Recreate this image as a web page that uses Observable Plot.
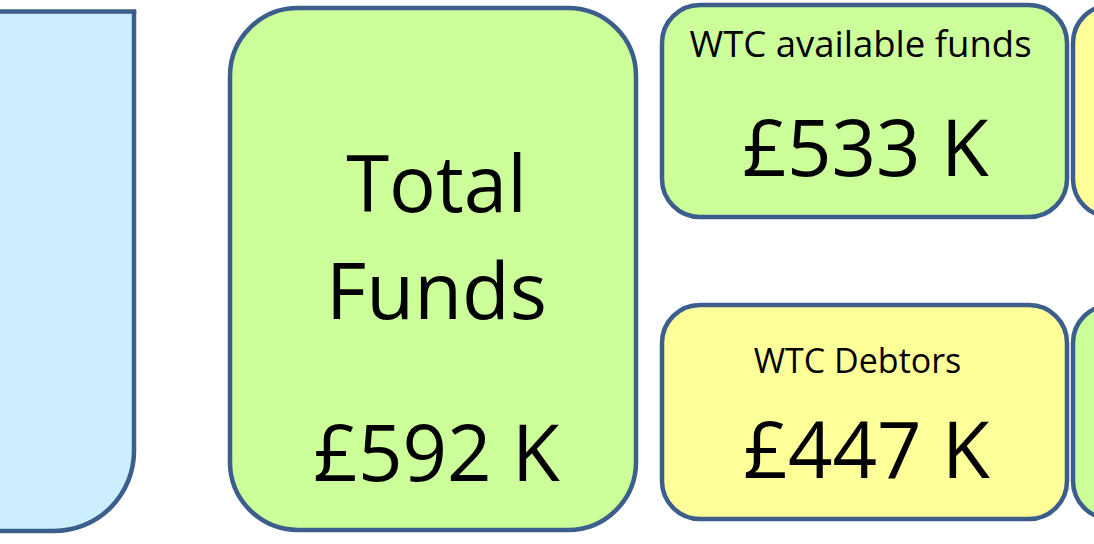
<!DOCTYPE html>
<html>
<head>
<meta charset="utf-8">
<script src="https://cdn.jsdelivr.net/npm/d3@7"></script>
<script src="https://cdn.jsdelivr.net/npm/@observablehq/plot@0.6"></script>
<style>
  html, body { margin: 0; padding: 0; background: #ffffff; overflow: hidden; }
  #chart svg { display: block; }
</style>
</head>
<body>
<div id="chart"></div>
<script>
// ---- data ----
const boxNames   = ["side", "total", "available", "debtors", "rightTop", "rightBottom"];
const boxTitles  = ["", "Total\nFunds", "WTC available funds", "WTC Debtors", "", ""];
const boxValues  = [null, 592, 533, 447, null, null];   // £ thousands
const currency   = "£";
const unit       = "K";
const boxKinds   = ["info", "funds", "funds", "debt", "debt", "funds"];

// ---- layout / style (not data) ----
const W = 1094, H = 544;
const fills  = {info: "#cceeff", funds: "#ccff99", debt: "#ffff99"};
const stroke = "#3b5e8c";
const sw = 4.5;
const layout = {
  side:        {x1: -200, x2: 134,  y1: 11,  y2: 531, r: 80},
  total:       {x1: 230,  x2: 636,  y1: 8,   y2: 530, r: 68},
  available:   {x1: 662,  x2: 1067, y1: 5,   y2: 217, r: 38},
  debtors:     {x1: 662,  x2: 1067, y1: 305, y2: 519, r: 38},
  rightTop:    {x1: 1073, x2: 1400, y1: 5,   y2: 217, r: 38},
  rightBottom: {x1: 1073, x2: 1400, y1: 305, y2: 519, r: 38}
};
const textPos = {
  total:     {tx: 436, vx: 436, title: 318, titleSize: 78, value: 480, valueSize: 78, lh: 1.37},
  available: {tx: 860, vx: 865, title: 56,  titleSize: 36.5, value: 175, valueSize: 78},
  debtors:   {tx: 857, vx: 866, title: 372, titleSize: 34, value: 477, valueSize: 78}
};

const boxes = boxNames.map((n, i) => ({name: n, kind: boxKinds[i], ...layout[n]}));
const titles = boxNames.map((n, i) => ({name: n, text: boxTitles[i]})).filter(d => d.text && textPos[d.name])
  .map(d => ({...d, x: textPos[d.name].tx, y: textPos[d.name].title, size: textPos[d.name].titleSize, lh: textPos[d.name].lh || 1.2}));
const values = boxNames.map((n, i) => ({name: n, v: boxValues[i]})).filter(d => d.v != null)
  .map(d => ({...d, text: `${currency}${d.v} ${unit}`, x: textPos[d.name].vx, y: textPos[d.name].value, size: textPos[d.name].valueSize}));

const side = boxes.filter(d => d.name === "side");
const others = boxes.filter(d => d.name !== "side");
// side box: only its bottom-right corner is rounded; its top is a square cut
const sideTall = side.map(d => ({...d, y1: -600}));
const sideCover = side.map(d => ({...d, x2: d.x2 + 20, y1: -700, y2: d.y1}));

const marks = [];
marks.push(Plot.rect(sideTall, {x1: "x1", x2: "x2", y1: "y1", y2: "y2", fill: d => fills[d.kind], stroke, strokeWidth: sw, rx: 80, ry: 80, clip: true}));
marks.push(Plot.rect(sideCover, {x1: "x1", x2: "x2", y1: "y1", y2: "y2", fill: "#ffffff", clip: true}));
marks.push(Plot.ruleY(side, {y: "y1", x1: "x1", x2: d => d.x2 + sw / 2, stroke, strokeWidth: sw, clip: true}));
for (const b of others) {
  marks.push(Plot.rect([b], {x1: "x1", x2: "x2", y1: "y1", y2: "y2", fill: d => fills[d.kind], stroke, strokeWidth: sw, rx: b.r, ry: b.r, clip: true}));
}
for (const t of titles) {
  marks.push(Plot.text([t], {x: "x", y: "y", text: "text", fontSize: t.size, lineHeight: t.lh, lineAnchor: "bottom", fill: "#000", fontFamily: "Open Sans"}));
}
for (const v of values) {
  marks.push(Plot.text([v], {x: "x", y: "y", text: "text", fontSize: v.size, lineAnchor: "bottom", fill: "#000", fontFamily: "Open Sans"}));
}

const chart = Plot.plot({
  width: W,
  height: H,
  margin: 0,
  x: {domain: [0, W], range: [0, W], axis: null},
  y: {domain: [0, H], range: [0, H], axis: null},
  style: {background: "#ffffff", fontFamily: "Open Sans"},
  marks
});
document.getElementById("chart").append(chart);
</script>
</body>
</html>
